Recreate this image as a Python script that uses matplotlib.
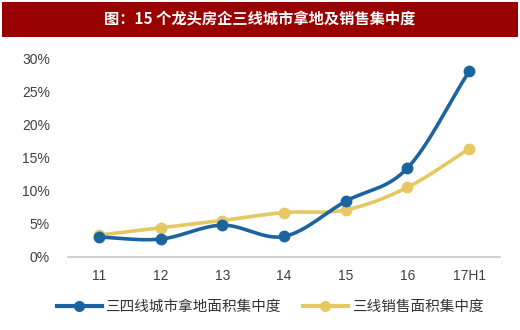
import numpy as np
import matplotlib
matplotlib.use("Agg")
import matplotlib.pyplot as plt
from matplotlib.patches import Rectangle
from matplotlib.lines import Line2D

plt.rcParams['font.family'] = ['Liberation Sans', 'Noto Sans CJK SC', 'DejaVu Sans']

# Data
years = ["11", "12", "13", "14", "15", "16", "17H1"]
land_share = [3.0, 2.7, 4.8, 3.1, 8.4, 13.4, 28.0]     # 三四线城市拿地面积集中度 (%)
sales_share = [3.3, 4.4, 5.5, 6.7, 7.1, 10.5, 16.3]    # 三线销售面积集中度 (%)
title = "图：15 个龙头房企三线城市拿地及销售集中度"
label_land = "三四线城市拿地面积集中度"
label_sales = "三线销售面积集中度"

blue = "#1c64a0"
yellow = "#e6c863"


def smooth(x, y, n=30):
    # Catmull-Rom curve through the points
    x = np.asarray(x, float)
    y = np.asarray(y, float)
    px = np.concatenate([[2 * x[0] - x[1]], x, [2 * x[-1] - x[-2]]])
    py = np.concatenate([[2 * y[0] - y[1]], y, [2 * y[-1] - y[-2]]])
    xs, ys = [], []
    t = np.linspace(0, 1, n)
    for i in range(1, len(px) - 2):
        for p, out in ((px, xs), (py, ys)):
            p0, p1, p2, p3 = p[i - 1], p[i], p[i + 1], p[i + 2]
            seg = 0.5 * (2 * p1 + (-p0 + p2) * t
                         + (2 * p0 - 5 * p1 + 4 * p2 - p3) * t ** 2
                         + (-p0 + 3 * p1 - 3 * p2 + p3) * t ** 3)
            out.extend(seg)
    return np.array(xs), np.array(ys)


fig = plt.figure(figsize=(5.2, 3.3), dpi=100)

# Title bar
fig.patches.append(Rectangle((2 / 520, 1 - 37 / 330), 516 / 520, 35 / 330,
                             transform=fig.transFigure, facecolor="#990000",
                             edgecolor="none"))
fig.text(0.5, 1 - 19 / 330, title, color="white", fontsize=11, fontweight="bold",
         ha="center", va="center", family=['Noto Sans CJK SC', 'DejaVu Sans'])

ax = fig.add_axes([68 / 520, 1 - 257 / 330, 432 / 520, 199 / 330])
x = np.arange(len(years))

for vals, col, lab in ((sales_share, yellow, label_sales), (land_share, blue, label_land)):
    v = np.array(vals) / 100
    sx, sy = smooth(x, v)
    ax.plot(sx, sy, color=col, lw=2.6, solid_capstyle="round", clip_on=False)
    ax.plot(x, v, "o", color=col, ms=7.5, clip_on=False)

ax.set_xlim(-0.5, 6.5)
ax.set_ylim(0, 0.30)
ax.set_yticks(np.arange(0, 0.31, 0.05))
ax.set_yticklabels([f"{int(round(t * 100))}%" for t in np.arange(0, 0.31, 0.05)])
ax.set_xticks(x)
ax.set_xticklabels(years)
ax.tick_params(length=0, labelsize=10, labelcolor="#404040")
ax.tick_params(axis="x", pad=9)
ax.tick_params(axis="y", pad=13)
for s in ["top", "right", "left"]:
    ax.spines[s].set_visible(False)
ax.spines["bottom"].set_color("#c8c8c8")
ax.spines["bottom"].set_linewidth(1.2)

handles = [Line2D([], [], color=blue, lw=3, marker="o", ms=7),
           Line2D([], [], color=yellow, lw=3, marker="o", ms=7)]
fig.legend(handles, [label_land, label_sales], loc="center", ncol=2,
           bbox_to_anchor=(270 / 520, 1 - 307 / 330), frameon=False,
           prop={"family": ['Noto Sans CJK SC'], "size": 10.5},
           handlelength=3.1, columnspacing=1.5, handletextpad=0.25)
for t in fig.legends[0].get_texts():
    t.set_color("#333333")

fig.savefig("out.png", dpi=100)
